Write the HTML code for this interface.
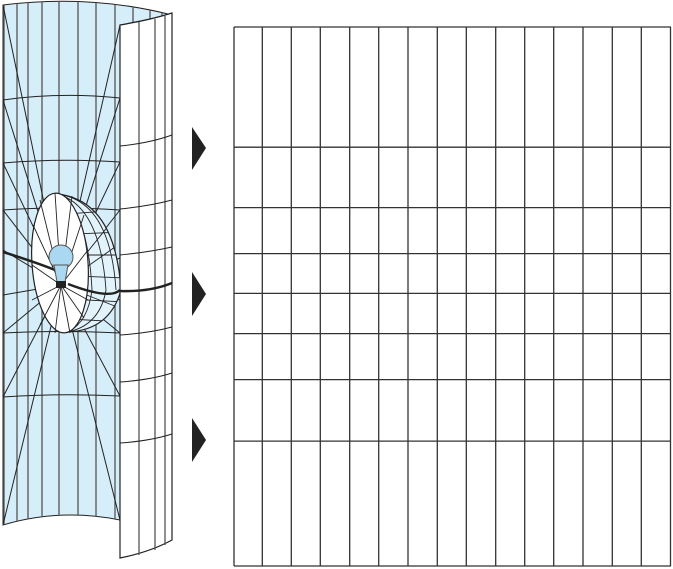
<!DOCTYPE html>
<html><head><style>html,body{margin:0;padding:0;background:#fff}svg{display:block}</style></head>
<body>
<svg width="673" height="569" viewBox="0 0 673 569" xmlns="http://www.w3.org/2000/svg">
<defs>
<clipPath id="blue"><path d="M3,5 Q90,-6 172,15 L172,14 L120,25 L120,520 Q60,508 3,525 Z"/></clipPath>
<clipPath id="sph"><path d="M57,194 Q115,200 121,290 Q110,330 68,332 Z"/></clipPath>
</defs>
<!-- blue interior -->
<path d="M3,5 Q90,-6 172,15 L120,25 L120,520 Q60,508 3,525 Z" fill="#d6eef9" stroke="#222" stroke-width="1"/>
<g stroke="#555" stroke-width="1.3" clip-path="url(#blue)">
<line x1="4" y1="0" x2="4" y2="530"/><line x1="17" y1="0" x2="17" y2="530"/><line x1="28" y1="0" x2="28" y2="530"/>
<line x1="42" y1="0" x2="42" y2="530"/><line x1="59" y1="0" x2="59" y2="530"/><line x1="78" y1="0" x2="78" y2="530"/>
<line x1="96" y1="0" x2="96" y2="530"/><line x1="115" y1="0" x2="115" y2="530"/>
<line x1="133" y1="0" x2="133" y2="30"/><line x1="150" y1="0" x2="150" y2="30"/><line x1="162" y1="0" x2="162" y2="30"/>
</g>
<g stroke="#222" stroke-width="1" fill="none" clip-path="url(#blue)">
<path d="M3,100 Q60,92 120,98"/><path d="M3,163 Q60,158 120,162"/><path d="M3,210 Q60,206 120,210"/>
<path d="M3,333 Q60,330 120,333"/><path d="M3,397 Q60,393 120,396"/>
<!-- rays -->
<g stroke-width="1">
<line x1="61" y1="285" x2="3" y2="5"/><line x1="61" y1="285" x2="120" y2="25"/>
<line x1="61" y1="285" x2="3" y2="100"/><line x1="61" y1="285" x2="3" y2="163"/>
<line x1="61" y1="285" x2="3" y2="210"/><line x1="61" y1="285" x2="120" y2="98"/>
<line x1="61" y1="285" x2="120" y2="162"/><line x1="61" y1="285" x2="120" y2="210"/>
<line x1="61" y1="285" x2="3" y2="333"/><line x1="61" y1="285" x2="3" y2="397"/>
<line x1="61" y1="285" x2="3" y2="525"/><line x1="61" y1="285" x2="120" y2="333"/>
<line x1="61" y1="285" x2="120" y2="396"/><line x1="61" y1="285" x2="120" y2="520"/>
<line x1="61" y1="285" x2="3" y2="250"/><line x1="61" y1="285" x2="3" y2="295"/>
<line x1="61" y1="285" x2="120" y2="258"/><line x1="61" y1="285" x2="120" y2="300"/>
</g>
</g>
<!-- sphere -->
<path d="M57,194 Q115,200 121,290 Q110,330 68,332 Z" fill="#e2f3fb" stroke="#222" stroke-width="1.2"/>
<g stroke="#222" stroke-width="0.9" fill="none" clip-path="url(#sph)">
<path d="M57,194 Q100,205 106,290 Q100,325 68,332"/>
<path d="M57,194 Q88,210 92,290 Q88,322 68,332"/>
<path d="M57,194 Q110,200 116,290"/>
<line x1="50" y1="215" x2="125" y2="210"/><line x1="50" y1="235" x2="125" y2="232"/>
<line x1="50" y1="255" x2="125" y2="255"/><line x1="50" y1="275" x2="125" y2="278"/>
<line x1="50" y1="298" x2="125" y2="302"/><line x1="50" y1="318" x2="125" y2="322"/>
<line x1="61" y1="285" x2="125" y2="205"/><line x1="61" y1="285" x2="125" y2="240"/>
<line x1="61" y1="285" x2="125" y2="310"/>
</g>
<!-- disc -->
<ellipse cx="60" cy="263" rx="28" ry="70" fill="#fff" stroke="#222" stroke-width="1.2" transform="rotate(-4 60 263)"/>
<g stroke="#222" stroke-width="0.9">
<line x1="61" y1="285" x2="40" y2="200"/><line x1="61" y1="285" x2="55" y2="193"/><line x1="61" y1="285" x2="72" y2="196"/>
<line x1="61" y1="285" x2="84" y2="215"/><line x1="61" y1="285" x2="33" y2="225"/><line x1="61" y1="285" x2="32" y2="265"/>
<line x1="61" y1="285" x2="88" y2="250"/><line x1="61" y1="285" x2="32" y2="300"/><line x1="61" y1="285" x2="88" y2="300"/>
<line x1="61" y1="285" x2="40" y2="325"/><line x1="61" y1="285" x2="55" y2="333"/><line x1="61" y1="285" x2="70" y2="333"/>
<line x1="61" y1="285" x2="84" y2="318"/>
</g>
<!-- equator thick -->
<path d="M3,252 Q35,262 55,270 M68,284 Q110,300 120,290" stroke="#222" stroke-width="2.5" fill="none"/>
<!-- bulb -->
<circle cx="61" cy="257" r="12" fill="#a9d8f0" stroke="#555" stroke-width="1"/>
<path d="M54,265 L57,282 L65,282 L68,265 Z" fill="#a9d8f0" stroke="#555" stroke-width="1"/>
<rect x="56" y="281" width="10" height="7" fill="#222"/>
<!-- white front panel -->
<path d="M120,25 Q150,20 172,13 L172,540 Q150,552 120,558 Z" fill="#fff" stroke="#222" stroke-width="1.2"/>
<g stroke="#555" stroke-width="1.3">
<line x1="139" y1="22" x2="139" y2="555"/><line x1="155" y1="19" x2="155" y2="550"/><line x1="165" y1="16" x2="165" y2="545"/>
</g>
<g stroke="#222" stroke-width="1" fill="none">
<path d="M120,146 Q150,143 172,135"/><path d="M120,209 Q150,206 172,200"/><path d="M120,255 Q150,252 172,247"/>
<path d="M120,335 Q150,333 172,327"/><path d="M120,382 Q150,380 172,373"/><path d="M120,443 Q150,441 172,434"/>
</g>
<path d="M120,291 Q150,292 172,283" stroke="#222" stroke-width="2.5" fill="none"/>
<!-- arrows -->
<polygon points="192,127 206,148 192,170" fill="#222"/>
<polygon points="192,272 206,294 192,316" fill="#222"/>
<polygon points="192,418 206,440 192,462" fill="#222"/>
<!-- grid -->
<g stroke="#333" stroke-width="1.3">
<line x1="234" y1="27" x2="234" y2="566"/><line x1="262.3" y1="27" x2="262.3" y2="566"/><line x1="291.3" y1="27" x2="291.3" y2="566"/>
<line x1="320.3" y1="27" x2="320.3" y2="566"/><line x1="349.7" y1="27" x2="349.7" y2="566"/><line x1="378.7" y1="27" x2="378.7" y2="566"/>
<line x1="408" y1="27" x2="408" y2="566"/><line x1="437.3" y1="27" x2="437.3" y2="566"/><line x1="466.3" y1="27" x2="466.3" y2="566"/>
<line x1="495.7" y1="27" x2="495.7" y2="566"/><line x1="524.7" y1="27" x2="524.7" y2="566"/><line x1="553.7" y1="27" x2="553.7" y2="566"/>
<line x1="583" y1="27" x2="583" y2="566"/><line x1="612.3" y1="27" x2="612.3" y2="566"/><line x1="641.3" y1="27" x2="641.3" y2="566"/>
<line x1="670.5" y1="27" x2="670.5" y2="566"/>
<line x1="234" y1="27" x2="671" y2="27"/><line x1="234" y1="147.2" x2="671" y2="147.2"/><line x1="234" y1="207.6" x2="671" y2="207.6"/>
<line x1="234" y1="253.6" x2="671" y2="253.6"/><line x1="234" y1="293.4" x2="671" y2="293.4"/><line x1="234" y1="333.6" x2="671" y2="333.6"/>
<line x1="234" y1="379.6" x2="671" y2="379.6"/><line x1="234" y1="441.1" x2="671" y2="441.1"/><line x1="234" y1="566" x2="671" y2="566"/>
</g>
</svg>
</body></html>
